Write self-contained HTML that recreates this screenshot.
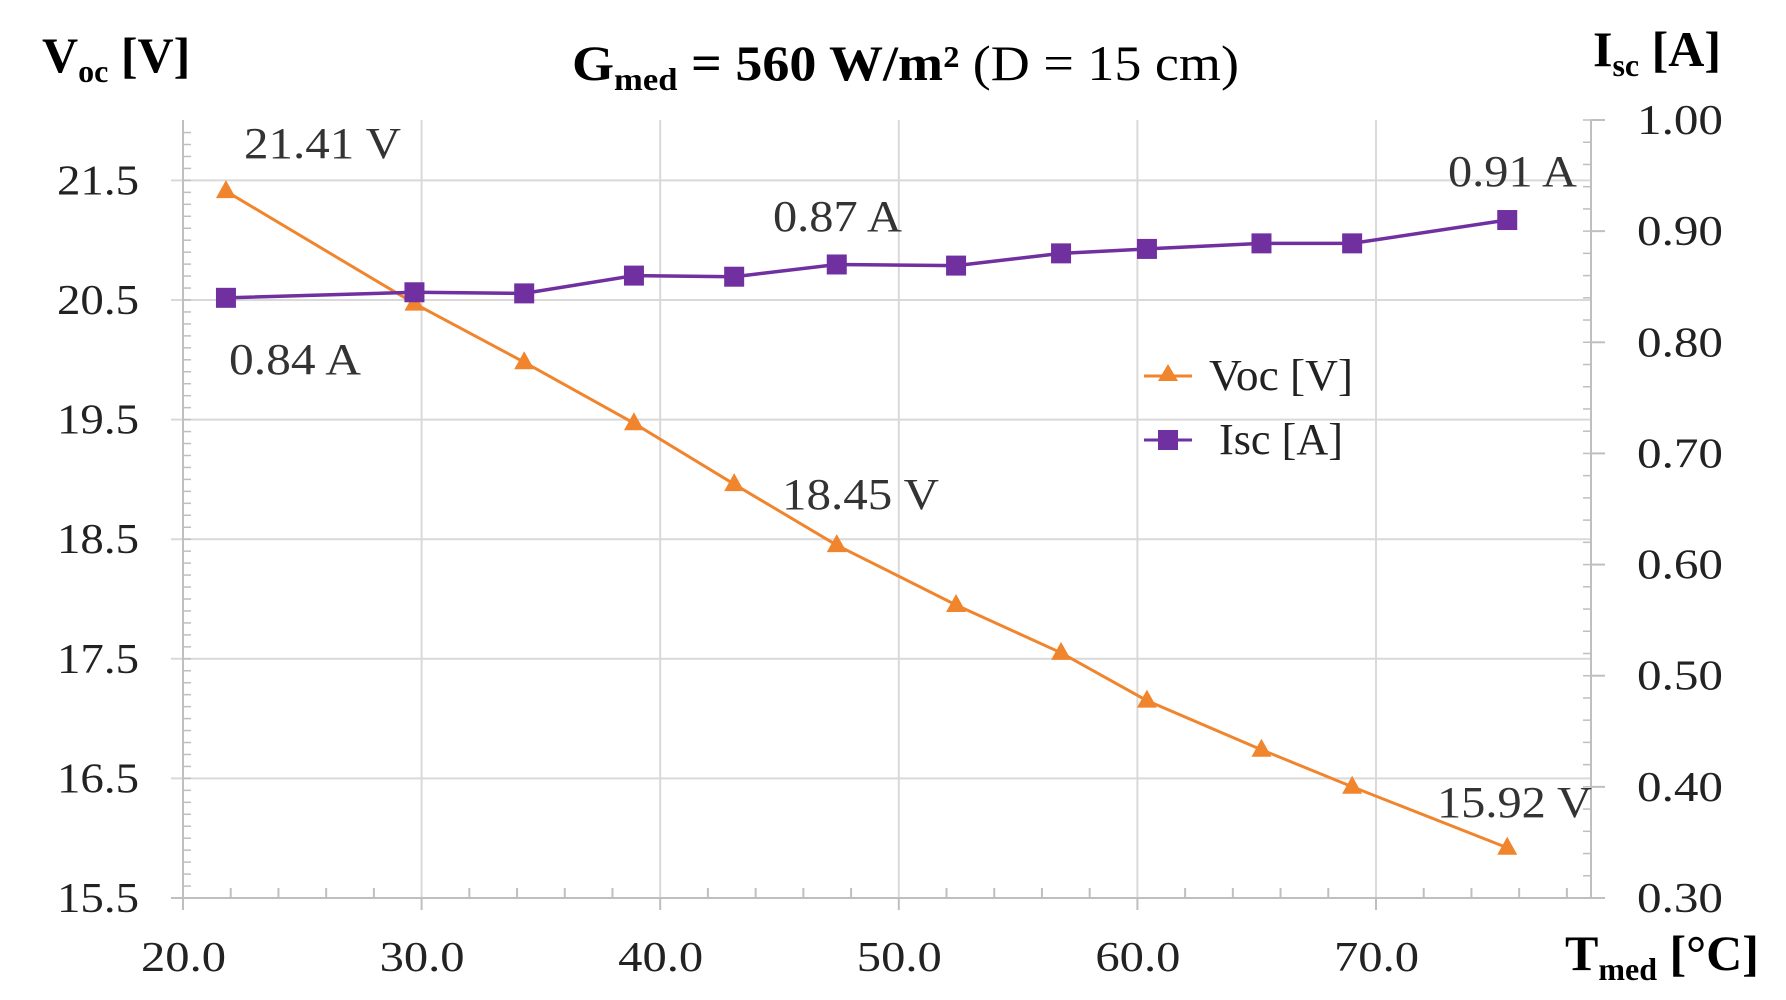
<!DOCTYPE html>
<html><head><meta charset="utf-8"><style>
html,body{margin:0;padding:0;background:#fff}
svg{display:block;font-family:"Liberation Serif",serif}
</style></head><body>
<svg id="chart" width="1786" height="1000" viewBox="0 0 1786 1000" xmlns="http://www.w3.org/2000/svg">
<g id="grid"></g>
<g id="axes"></g>
<g id="series"></g>
<g fill="#000">
<text x="572" y="80" font-size="50" textLength="667" lengthAdjust="spacingAndGlyphs"><tspan font-weight="bold">G<tspan font-size="32" dy="10">med</tspan><tspan dy="-10"> = 560 W/m²</tspan></tspan> (D = 15 cm)</text>
<text x="42" y="72" font-size="50" font-weight="bold">V<tspan font-size="32" dy="10">oc</tspan><tspan dy="-10"> [V]</tspan></text>
<text x="1593" y="66" font-size="50" font-weight="bold">I<tspan font-size="32" dy="10">sc</tspan><tspan dy="-10"> [A]</tspan></text>
<text x="1565" y="970" font-size="50" font-weight="bold">T<tspan font-size="32" dy="10">med</tspan><tspan dy="-10"> [°C]</tspan></text>
</g>
<g fill="#333" font-size="44" lengthAdjust="spacingAndGlyphs">
<text x="244" y="158" textLength="157" lengthAdjust="spacingAndGlyphs">21.41 V</text>
<text x="229" y="374" textLength="132" lengthAdjust="spacingAndGlyphs">0.84 A</text>
<text x="773" y="231" textLength="129" lengthAdjust="spacingAndGlyphs">0.87 A</text>
<text x="1448" y="186" textLength="129" lengthAdjust="spacingAndGlyphs">0.91 A</text>
<text x="782" y="509" textLength="157" lengthAdjust="spacingAndGlyphs">18.45 V</text>
<text x="1437" y="817" textLength="155" lengthAdjust="spacingAndGlyphs">15.92 V</text>
</g>
<g>
<g>
<line x1="1144" y1="376" x2="1192" y2="376" stroke="#F0852D" stroke-width="3"/>
<polygon points="1168,364 1178,381 1158,381" fill="#F0852D"/>
<text x="1209" y="390" font-size="44" fill="#222" textLength="144" lengthAdjust="spacingAndGlyphs">Voc [V]</text>
</g>
<g>
<line x1="1144" y1="440" x2="1192" y2="440" stroke="#7030A0" stroke-width="3"/>
<rect x="1158" y="430" width="20" height="20" fill="#7030A0"/>
<text x="1219" y="454" font-size="44" fill="#222" textLength="124" lengthAdjust="spacingAndGlyphs">Isc [A]</text>
</g>
</g>
</svg>
<script>
const temps=[21.8,29.7,34.3,38.9,43.1,47.4,52.4,56.8,60.4,65.2,69.0,75.5];
const vocValues=[21.41,20.47,19.98,19.47,18.96,18.45,17.95,17.55,17.15,16.74,16.43,15.92];
const iscValues=[0.840,0.845,0.844,0.860,0.859,0.870,0.869,0.880,0.884,0.889,0.889,0.910];
const xTicks=[20,30,40,50,60,70];
const yLeftTicks=[15.5,16.5,17.5,18.5,19.5,20.5,21.5];
const yRightTicks=[0.30,0.40,0.50,0.60,0.70,0.80,0.90,1.00];

const NS="http://www.w3.org/2000/svg";
const X0=183,X1=1591,Y0=898,YT=120;
const xS=v=>183+(v-20)*23.86;
const yL=v=>898-(v-15.5)*119.6;
const yR=v=>898-(v-0.30)*((898-YT)/0.70);
function mk(tag,attrs,parent){const e=document.createElementNS(NS,tag);for(const k in attrs)e.setAttribute(k,attrs[k]);parent.appendChild(e);return e;}
const grid=document.getElementById('grid'),axes=document.getElementById('axes'),series=document.getElementById('series');

xTicks.forEach(t=>{if(t===20)return;const l=mk('line',{x1:xS(t),x2:xS(t),y1:YT,y2:Y0,stroke:'#d9d9d9','stroke-width':2},grid);

});
yLeftTicks.forEach(t=>{if(t===15.5)return;const l=mk('line',{x1:X0-12,x2:X1,y1:yL(t),y2:yL(t),stroke:'#d9d9d9','stroke-width':2},grid);

});

mk('line',{x1:X0,x2:X0,y1:YT,y2:Y0,stroke:'#bfbfbf','stroke-width':2},axes);
mk('line',{x1:X1,x2:X1,y1:YT,y2:Y0,stroke:'#bfbfbf','stroke-width':2},axes);
mk('line',{x1:X0-12,x2:X1+12,y1:Y0,y2:Y0,stroke:'#bfbfbf','stroke-width':2},axes);
for(let v=20;v<=78;v+=2){mk('line',{x1:xS(v),x2:xS(v),y1:Y0,y2:Y0-(v%10===0?0:10),stroke:'#bfbfbf','stroke-width':2},axes);if(v%10===0)mk('line',{x1:xS(v),x2:xS(v),y1:Y0,y2:Y0+12,stroke:'#bfbfbf','stroke-width':2},axes);}
for(let v=15.5;v<=21.95;v+=0.1){mk('line',{x1:X0,x2:X0+8,y1:yL(v),y2:yL(v),stroke:'#bfbfbf','stroke-width':1.5},axes);}
for(let v=0.30;v<=1.001;v+=0.02){mk('line',{x1:X1-8,x2:X1,y1:yR(v),y2:yR(v),stroke:'#bfbfbf','stroke-width':1.5},axes);}
yRightTicks.forEach(t=>{mk('line',{x1:X1,x2:X1+14,y1:yR(t),y2:yR(t),stroke:'#bfbfbf','stroke-width':2},axes);});

xTicks.forEach(t=>{const e=mk('text',{x:xS(t)-42,y:971,'font-size':42,fill:'#222',textLength:85,lengthAdjust:'spacingAndGlyphs'},axes);e.textContent=t.toFixed(1);

});
yLeftTicks.forEach(t=>{const e=mk('text',{x:57,y:yL(t)+14,'font-size':42,fill:'#222',textLength:82,lengthAdjust:'spacingAndGlyphs'},axes);e.textContent=t.toFixed(1);

});
yRightTicks.forEach(t=>{const e=mk('text',{x:1637,y:yR(t)+14,'font-size':42,fill:'#222',textLength:86,lengthAdjust:'spacingAndGlyphs'},axes);e.textContent=t.toFixed(2);

});

const vpts=temps.map((t,i)=>xS(t)+','+yL(vocValues[i])).join(' ');
const vl=mk('polyline',{points:vpts,fill:'none',stroke:'#F0852D','stroke-width':3},series);


const ipts=temps.map((t,i)=>xS(t)+','+yR(iscValues[i])).join(' ');
const il=mk('polyline',{points:ipts,fill:'none',stroke:'#7030A0','stroke-width':3.5},series);


temps.forEach((t,i)=>{const x=xS(t),y=yL(vocValues[i]);
const p=mk('polygon',{points:`${x},${y-11} ${x+10},${y+7} ${x-10},${y+7}`,fill:'#F0852D'},series);


const y2=yR(iscValues[i]);
const r=mk('rect',{x:x-10,y:y2-10,width:20,height:20,fill:'#7030A0'},series);

});
</script>
</body></html>
